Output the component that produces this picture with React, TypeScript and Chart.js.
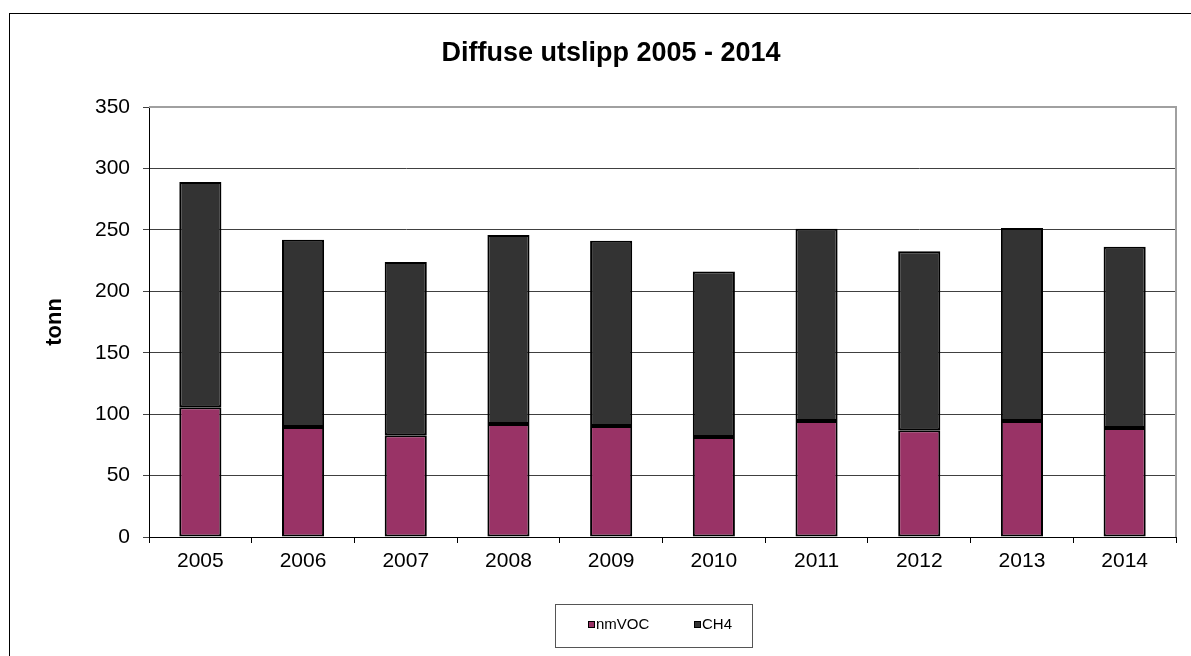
import React, { useEffect, useRef } from "react";
import { Chart, registerables } from "chart.js";

Chart.register(...registerables);

const years = ["2005", "2006", "2007", "2008", "2009", "2010", "2011", "2012", "2013", "2014"];
const nmVOC = [105.6, 89.5, 82.8, 92.0, 90.3, 81.4, 94.4, 86.8, 94.4, 88.7];
const ch4 = [183.4, 152.5, 141.0, 153.8, 150.9, 134.8, 156.6, 145.7, 157.1, 147.6];
const seriesNames = ["nmVOC", "CH4"];
const seriesColors = ["#993366", "#333333"];
const titleText = "Diffuse utslipp 2005 - 2014";
const yTitle = "tonn";

const FONT = "'Liberation Sans', Arial, sans-serif";

const decorPlugin = {
  id: "decor",
  beforeDraw(chart: any) {
    const ctx = chart.ctx;
    ctx.save();
    ctx.fillStyle = "#ffffff";
    ctx.fillRect(0, 0, chart.width, chart.height);
    ctx.restore();
  },
  afterDraw(chart: any) {
    const ctx = chart.ctx;
    const area = chart.chartArea;
    ctx.save();
    // outer frame
    ctx.strokeStyle = "#000000";
    ctx.lineWidth = 1;
    ctx.strokeRect(9.5, 13.5, 1400, 800);
    // plot border (top/right)
    ctx.strokeStyle = "#a0a0a0";
    ctx.lineWidth = 2;
    ctx.beginPath();
    ctx.moveTo(area.left, area.top);
    ctx.lineTo(area.right, area.top);
    ctx.lineTo(area.right, area.bottom);
    ctx.stroke();
    // title
    ctx.fillStyle = "#000000";
    ctx.font = `bold 27px ${FONT}`;
    ctx.textAlign = "center";
    ctx.textBaseline = "alphabetic";
    ctx.fillText(titleText, 611, 61);
    // legend
    ctx.strokeStyle = "#555555";
    ctx.lineWidth = 1;
    ctx.strokeRect(555.5, 604.5, 197, 43);
    ctx.font = `15px ${FONT}`;
    ctx.textAlign = "left";
    ctx.textBaseline = "middle";
    const xs = [588, 694];
    seriesNames.forEach((name, i) => {
      ctx.fillStyle = seriesColors[i];
      ctx.fillRect(xs[i], 621, 7, 7);
      ctx.strokeStyle = "#000000";
      ctx.lineWidth = 1;
      ctx.strokeRect(xs[i] + 0.5, 621.5, 6, 6);
      ctx.fillStyle = "#000000";
      ctx.fillText(name, xs[i] + 8, 625);
    });
    ctx.restore();
  },
};

export default function App() {
  const ref = useRef<HTMLCanvasElement | null>(null);
  useEffect(() => {
    if (!ref.current) return;
    const chart = new Chart(ref.current, {
      type: "bar",
      data: {
        labels: years,
        datasets: [
          {
            label: seriesNames[0],
            data: nmVOC,
            backgroundColor: seriesColors[0],
            borderColor: "#000000",
            borderWidth: 2,
            borderSkipped: false,
            categoryPercentage: 1,
            barPercentage: 0.41,
          },
          {
            label: seriesNames[1],
            data: ch4,
            backgroundColor: seriesColors[1],
            borderColor: "#000000",
            borderWidth: 2,
            borderSkipped: false,
            categoryPercentage: 1,
            barPercentage: 0.41,
          },
        ],
      },
      options: {
        responsive: false,
        animation: false,
        layout: { padding: { top: 107, right: 15, left: 0, bottom: 0 } },
        plugins: {
          legend: { display: false },
          title: { display: false },
          tooltip: { enabled: false },
        },
        scales: {
          x: {
            stacked: true,
            grid: {
              offset: true,
              drawOnChartArea: false,
              drawTicks: true,
              tickLength: 6,
              color: "#000000",
            },
            border: { color: "#000000", width: 1 },
            ticks: {
              color: "#000000",
              font: { family: FONT, size: 21 },
              padding: 6,
              maxRotation: 0,
            },
            afterFit: (s: any) => {
              s.height = 119;
            },
          },
          y: {
            stacked: true,
            min: 0,
            max: 350,
            ticks: {
              stepSize: 50,
              color: "#000000",
              font: { family: FONT, size: 21 },
              padding: 13,
            },
            grid: {
              color: "#404040",
              tickLength: 6,
              lineWidth: 1,
            },
            border: { color: "#000000", width: 1 },
            title: {
              display: true,
              text: yTitle,
              color: "#000000",
              font: { family: FONT, size: 22, weight: "bold" },
              padding: { top: 42, bottom: 0 },
            },
            afterFit: (s: any) => {
              s.width = 149;
            },
          },
        },
      },
      plugins: [decorPlugin],
    });
    return () => chart.destroy();
  }, []);
  return (
    <div style={{ position: "fixed", left: 0, top: 0, width: 1191, height: 656, background: "#fff" }}>
      <canvas ref={ref} width={1191} height={656} style={{ display: "block" }} />
    </div>
  );
}
